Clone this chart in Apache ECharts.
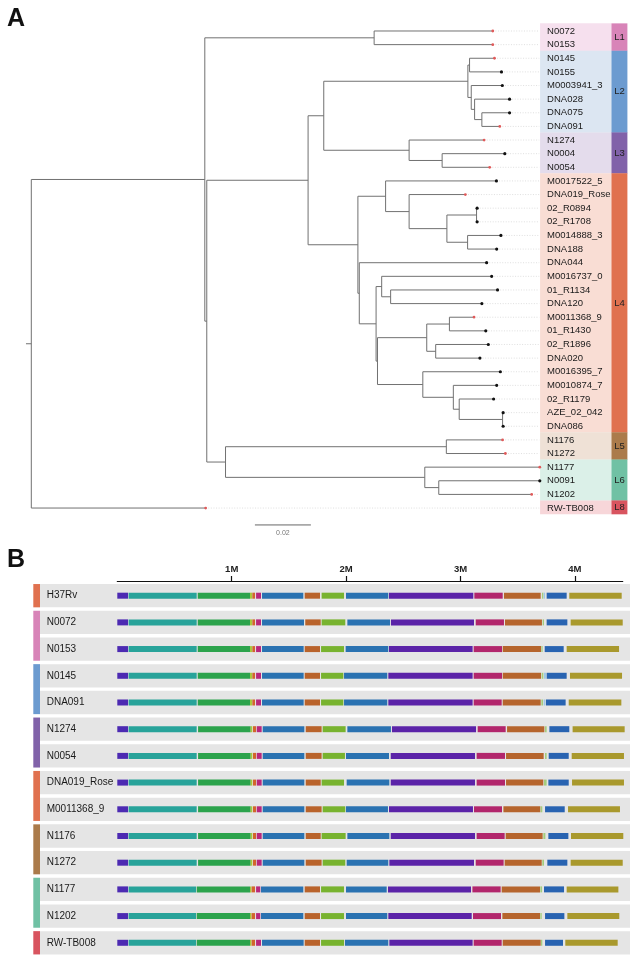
<!DOCTYPE html>
<html><head><meta charset="utf-8">
<script src="https://cdn.jsdelivr.net/npm/echarts@6/dist/echarts.min.js"></script>
<style>html,body{margin:0;padding:0;background:#fff}#c{width:633px;height:959px}</style>
</head><body><div id="c"></div>
<script>
// ---------------- DATA ----------------
// tree (Newick clades with branch lengths, substitutions/site)
const cladeL1 = "(N0072:0.0424,N0153:0.0424)";
const cladeL2 = "((N0145:0.0089,N0155:0.0114):0.0006,(M0003941_3:0.0111,(DNA028:0.0125,(DNA075:0.0099,DNA091:0.0064):0.0026):0.0012):0.0012)";
const cladeL3 = "(N1274:0.0268,(N0004:0.0224,N0054:0.0170):0.0118)";
const cladeL4a = "(M0017522_5:0.0396,(DNA019_Rose:0.0201,((02_R0894:0.0002,02_R1708:0.0002):0.0106,(M0014888_3:0.0119,DNA188:0.0104):0.0074):0.0135):0.0084)";
const cladeL4b = "(DNA044:0.0455,((M0016737_0:0.0393,(01_R1134:0.0382,DNA120:0.0326):0.0032):0.002,(((M0011368_9:0.0088,01_R1430:0.0130):0.0081,(02_R1896:0.0188,DNA020:0.0158):0.0032):0.0176,(M0016395_7:0.0277,(M0010874_7:0.0155,(02_R1179:0.0123,(AZE_02_042:0.0002,DNA086:0.0002):0.0155):0.0021):0.0109):0.0162):0.0005):0.006)";
const cladeL5 = "(N1176:0.0201,N1272:0.0211)";
const cladeL6 = "(N1177:0.0411,(N0091:0.0361,N1202:0.0332):0.005)";
const cladeL4 = "(" + cladeL4a + ":0.0099," + cladeL4b + ":0.0005)";
const cladeL23 = "(" + cladeL2 + ":0.0515," + cladeL3 + ":0.0305)";
const cladeL234 = "(" + cladeL23 + ":0.0056," + cladeL4 + ":0.0178)";
const cladeL56 = "(" + cladeL5 + ":0.0789," + cladeL6 + ":0.0712)";
const cladeRest = "(" + cladeL234 + ":0.0362," + cladeL56 + ":0.0067)";
const treeNewick = "((" + cladeL1 + ":0.0605," + cladeRest + ":0.0007):0.0620,RW-TB008:0.0623);";

const highlightedTips = ['N0072','N0153','N0145','DNA091','N1274','N0054','DNA019_Rose','M0011368_9','N1176','N1272','N1177','N1202','RW-TB008'];
const lineageNames = ['L1','L2','L3','L4','L5','L6','L8'];
const lineageFirstLeaf = [0,2,8,11,30,32,35];
const lineageLastLeaf  = [1,7,10,29,31,34,35];
const lineageBarColors = ['#d884b8','#6c9bd0','#8162a9','#e0714f','#ab7b4b','#70c1a4','#d8545f'];
const lineageBgColors  = ['#f6e0ee','#dce6f2','#e4dcec','#f9ddd4','#efe1d6','#dbf0e8','#f7d6d9'];
const scaleBarLength = 0.02;
const scaleBarLabel = '0.02';

const genomes = ['H37Rv','N0072','N0153','N0145','DNA091','N1274','N0054','DNA019_Rose','M0011368_9','N1176','N1272','N1177','N1202','RW-TB008'];
const genomeLineage = ['L4','L1','L1','L2','L2','L3','L3','L4','L4','L5','L5','L6','L6','L8'];
const blockColors = ['#4c2ab2','#28a39a','#2ca34c','#a9c63c','#d2652c','#b8287c','#2a72b1','#b9632b','#78b32f','#2a72b1','#5b23a8','#b2266c','#b6652d','#a4cd7c','#9ec9e6','#2863b1','#a9992d'];
const axisTickValuesMb = [1,2,3,4];
const axisMaxMb = 4.418;

// [block, start Mb, end Mb]
const blocksH37Rv = [[0,0,0.094],[1,0.099,0.694],[2,0.703,1.160],[3,1.160,1.178],[4,1.180,1.204],[5,1.213,1.256],[6,1.265,1.626],[7,1.638,1.772],[8,1.786,1.982],[9,1.999,2.369],[10,2.375,3.112],[11,3.121,3.369],[12,3.380,3.701],[13,3.712,3.724],[14,3.727,3.739],[15,3.753,3.928],[16,3.951,4.409]];
const blocksN0072 = [[0,0,0.094],[1,0.099,0.694],[2,0.703,1.160],[3,1.160,1.178],[4,1.180,1.204],[5,1.213,1.256],[6,1.265,1.632],[7,1.643,1.778],[8,1.786,1.993],[9,2.011,2.384],[10,2.392,3.118],[11,3.133,3.380],[12,3.389,3.712],[13,3.718,3.730],[15,3.753,3.934],[16,3.963,4.418]];
const blocksN0153 = [[0,0,0.094],[1,0.099,0.694],[2,0.703,1.160],[3,1.160,1.178],[4,1.180,1.204],[5,1.213,1.256],[6,1.265,1.629],[7,1.638,1.772],[8,1.781,1.982],[9,1.996,2.369],[10,2.375,3.106],[11,3.115,3.363],[12,3.369,3.704],[13,3.707,3.718],[15,3.736,3.902],[16,3.928,4.386]];
const blocksN0145 = [[0,0,0.094],[1,0.099,0.694],[2,0.703,1.160],[3,1.160,1.178],[4,1.180,1.204],[5,1.213,1.256],[6,1.265,1.629],[7,1.638,1.772],[8,1.781,1.976],[9,1.982,2.360],[10,2.369,3.106],[11,3.115,3.363],[12,3.369,3.704],[13,3.710,3.724],[14,3.730,3.747],[15,3.753,3.928],[16,3.957,4.412]];
const blocksDNA091 = [[0,0,0.094],[1,0.099,0.694],[2,0.703,1.160],[3,1.160,1.178],[4,1.180,1.204],[5,1.213,1.256],[6,1.265,1.629],[7,1.638,1.772],[8,1.781,1.976],[9,1.982,2.360],[10,2.369,3.106],[11,3.115,3.360],[12,3.369,3.701],[13,3.707,3.721],[14,3.727,3.742],[15,3.747,3.919],[16,3.946,4.406]];
const blocksN1274 = [[0,0,0.094],[1,0.099,0.694],[2,0.706,1.166],[3,1.166,1.180],[4,1.186,1.213],[5,1.219,1.262],[6,1.271,1.635],[7,1.647,1.786],[8,1.795,1.996],[9,2.011,2.392],[10,2.401,3.136],[11,3.150,3.395],[12,3.407,3.733],[13,3.739,3.753],[15,3.777,3.951],[16,3.980,4.435]];
const blocksN0054 = [[0,0,0.094],[1,0.099,0.694],[2,0.706,1.166],[3,1.166,1.180],[4,1.186,1.213],[5,1.219,1.262],[6,1.271,1.635],[7,1.647,1.786],[8,1.795,1.990],[9,1.999,2.375],[10,2.390,3.127],[11,3.141,3.389],[12,3.398,3.727],[13,3.739,3.753],[15,3.771,3.946],[16,3.972,4.429]];
const blocksDNA019_Rose = [[0,0,0.094],[1,0.099,0.694],[2,0.706,1.166],[3,1.166,1.180],[4,1.186,1.213],[5,1.219,1.262],[6,1.271,1.635],[7,1.647,1.778],[8,1.786,1.982],[9,2.005,2.378],[10,2.390,3.127],[11,3.141,3.389],[12,3.398,3.724],[13,3.730,3.753],[15,3.768,3.946],[16,3.975,4.429]];
const blocksM0011368_9 = [[0,0,0.094],[1,0.099,0.694],[2,0.706,1.166],[3,1.166,1.180],[4,1.186,1.213],[5,1.219,1.262],[6,1.271,1.635],[7,1.647,1.786],[8,1.795,1.993],[9,1.999,2.366],[10,2.375,3.109],[11,3.118,3.363],[12,3.375,3.698],[13,3.701,3.715],[15,3.739,3.911],[16,3.940,4.394]];
const blocksN1176 = [[0,0,0.094],[1,0.099,0.694],[2,0.706,1.166],[3,1.166,1.180],[4,1.186,1.213],[5,1.219,1.262],[6,1.271,1.635],[7,1.647,1.778],[8,1.786,1.996],[9,2.011,2.378],[10,2.390,3.127],[11,3.141,3.386],[12,3.395,3.718],[13,3.724,3.742],[15,3.768,3.943],[16,3.966,4.423]];
const blocksN1272 = [[0,0,0.094],[1,0.099,0.694],[2,0.706,1.166],[3,1.166,1.180],[4,1.186,1.213],[5,1.219,1.262],[6,1.271,1.635],[7,1.647,1.786],[8,1.795,1.993],[9,2.005,2.369],[10,2.378,3.118],[11,3.133,3.377],[12,3.386,3.710],[13,3.715,3.730],[15,3.759,3.934],[16,3.963,4.418]];
const blocksN1177 = [[0,0,0.094],[1,0.099,0.688],[2,0.694,1.160],[3,1.160,1.172],[4,1.174,1.204],[5,1.213,1.250],[6,1.256,1.626],[7,1.638,1.772],[8,1.781,1.982],[9,1.999,2.355],[10,2.366,3.092],[11,3.104,3.351],[12,3.360,3.695],[13,3.698,3.713],[15,3.730,3.905],[16,3.928,4.380]];
const blocksN1202 = [[0,0,0.094],[1,0.099,0.688],[2,0.694,1.160],[3,1.160,1.172],[4,1.174,1.204],[5,1.213,1.250],[6,1.256,1.626],[7,1.638,1.772],[8,1.781,1.982],[9,1.999,2.360],[10,2.369,3.098],[11,3.109,3.354],[12,3.366,3.695],[13,3.698,3.710],[15,3.739,3.908],[16,3.934,4.388]];
const blocksRW_TB008 = [[0,0,0.094],[1,0.099,0.688],[2,0.694,1.160],[3,1.160,1.172],[4,1.174,1.204],[5,1.213,1.256],[6,1.265,1.629],[7,1.638,1.772],[8,1.781,1.982],[9,1.990,2.369],[10,2.378,3.106],[11,3.115,3.360],[12,3.369,3.701],[13,3.704,3.715],[15,3.739,3.896],[16,3.916,4.374]];
const genomeBlocks = [blocksH37Rv,blocksN0072,blocksN0153,blocksN0145,blocksDNA091,blocksN1274,blocksN0054,blocksDNA019_Rose,blocksM0011368_9,blocksN1176,blocksN1272,blocksN1177,blocksN1202,blocksRW_TB008];

// ---------------- TREE PARSE / LAYOUT ----------------
function parseNewick(s){
  let i=0;
  function node(){
    const n={children:[],name:'',len:0};
    if(s[i]==='('){
      i++; n.children.push(node());
      while(s[i]===','){i++; n.children.push(node());}
      i++;
    }
    let name='';
    while(i<s.length && !':,();'.includes(s[i])){name+=s[i];i++;}
    n.name=name;
    if(s[i]===':'){i++; let num=''; while(i<s.length && !',();'.includes(s[i])){num+=s[i];i++;} n.len=parseFloat(num);}
    return n;
  }
  return node();
}
const root = parseNewick(treeNewick);
const leaves=[];
function layout(n, x0){
  n.x = x0 + n.len;
  if(!n.children.length){ n.y = leaves.length; leaves.push(n); }
  else { n.children.forEach(c=>layout(c,n.x)); n.y=(n.children[0].y + n.children[n.children.length-1].y)/2; }
}
root.len=0; layout(root,0);
const edges=[];
(function walk(n){
  if(n.children.length){
    edges.push([n.x, n.children[0].y, n.x, n.children[n.children.length-1].y]);
    n.children.forEach(c=>{ edges.push([n.x, c.y, c.x, c.y]); walk(c); });
  }
})(root);
edges.push([-0.0019, root.y, 0, root.y]);
const alignX = 0.1815;
const tipData = leaves.map(l=>[l.x, l.y, highlightedTips.includes(l.name)?1:0, l.name]);

const FONT = '"Liberation Sans", Arial, Helvetica, sans-serif';
const chart = echarts.init(document.getElementById('c'), null, {renderer:'canvas'});

function lineItem(api, a, b, style){
  const p0=api.coord(a), p1=api.coord(b);
  return {type:'line', shape:{x1:p0[0],y1:p0[1],x2:p1[0],y2:p1[1]}, style};
}
const bandData = lineageNames.map((nm,k)=>[lineageFirstLeaf[k], lineageLastLeaf[k], k]);
const stripGroups=[];
genomeLineage.forEach((lg,i)=>{
  const last=stripGroups[stripGroups.length-1];
  if(last && last.lg===lg && last.end===i-1) last.end=i; else stripGroups.push({lg,start:i,end:i});
});
const segData=[];
genomeBlocks.forEach((bl,r)=>bl.forEach(b=>segData.push([b[1],b[2],r,b[0]])));

const option = {
  animation:false,
  backgroundColor:'#fff',
  grid:[
    {left:25.7, top:17.37, width:607.6, height:504.3},
    {left:117.3, top:581, width:axisMaxMb*114.4, height:14.1*26.7}
  ],
  xAxis:[
    {type:'value', gridIndex:0, min:-0.002, max:0.215, show:false},
    {type:'value', gridIndex:1, min:0, max:axisMaxMb, position:'top', interval:1,
     axisLine:{show:true, onZero:false, lineStyle:{color:'#111', width:1.2}},
     axisTick:{show:true, inside:false, length:5, lineStyle:{color:'#111',width:1.2}, customValues:axisTickValuesMb},
     axisLabel:{show:true, margin:7, color:'#222', fontSize:9.5, fontWeight:'bold', fontFamily:FONT, customValues:axisTickValuesMb, formatter:v=>v+'M'},
     splitLine:{show:false}}
  ],
  yAxis:[
    {type:'value', gridIndex:0, min:-1, max:36, inverse:true, show:false},
    {type:'value', gridIndex:1, min:-0.55, max:13.55, inverse:true, show:false}
  ],
  graphic:[
    {type:'text', left:7, top:7, z:100, style:{text:'A', font:'bold 25px '+FONT, fill:'#111'}},
    {type:'text', left:7, top:548, z:100, style:{text:'B', font:'bold 25px '+FONT, fill:'#111'}}
  ],
  series:[
    {type:'custom', xAxisIndex:0, yAxisIndex:0, clip:false, data:bandData,
     renderItem:(p,api)=>{
       const k=api.value(2);
       const tl=api.coord([0.1818, api.value(0)-0.56]);
       const br=api.coord([0.2073, api.value(1)+0.46]);
       const br2=api.coord([0.2130, api.value(1)+0.46]);
       const mid=api.coord([0.2102,(api.value(0)+api.value(1))/2-0.05]);
       return {type:'group', children:[
         {type:'rect', shape:{x:tl[0],y:tl[1],width:br[0]-tl[0],height:br[1]-tl[1]}, style:{fill:lineageBgColors[k]}},
         {type:'rect', shape:{x:br[0],y:tl[1],width:br2[0]-br[0],height:br[1]-tl[1]}, style:{fill:lineageBarColors[k]}},
         {type:'text', x:mid[0], y:mid[1], style:{text:lineageNames[k], fill:'#222', font:'9.5px '+FONT, align:'center', verticalAlign:'middle'}}
       ]};
     }},
    {type:'custom', xAxisIndex:0, yAxisIndex:0, clip:false, data:tipData,
     renderItem:(p,api)=>lineItem(api,[api.value(0),api.value(1)],[alignX,api.value(1)],{stroke:'#cacaca',lineWidth:0.6,lineDash:[1,1.6]})},
    {type:'custom', xAxisIndex:0, yAxisIndex:0, clip:false, data:edges,
     renderItem:(p,api)=>lineItem(api,[api.value(0),api.value(1)],[api.value(2),api.value(3)],{stroke:'#717171',lineWidth:1})},
    {type:'custom', xAxisIndex:0, yAxisIndex:0, clip:false, data:tipData,
     renderItem:(p,api)=>{const c=api.coord([api.value(0),api.value(1)]); const red=api.value(2)===1;
       return {type:'circle', shape:{cx:c[0],cy:c[1],r:red?1.4:1.6}, style:{fill:red?'#e05a5a':'#111'}};}},
    {type:'custom', xAxisIndex:0, yAxisIndex:0, clip:false, data:tipData,
     renderItem:(p,api)=>{const c=api.coord([0.1843,api.value(1)]);
       return {type:'text', x:c[0], y:c[1], style:{text:tipData[p.dataIndex][3], fill:'#1a1a1a', font:'9.5px '+FONT, verticalAlign:'middle'}};}},
    {type:'custom', xAxisIndex:0, yAxisIndex:0, clip:false, data:[[0.0799, 36.24]],
     renderItem:(p,api)=>{const a=api.coord([api.value(0),api.value(1)]); const b=api.coord([api.value(0)+scaleBarLength,api.value(1)]);
       return {type:'group',children:[
         {type:'line', shape:{x1:a[0],y1:a[1],x2:b[0],y2:b[1]}, style:{stroke:'#666',lineWidth:1}},
         {type:'text', x:(a[0]+b[0])/2, y:a[1]+8, style:{text:scaleBarLabel, fill:'#777', font:'7px '+FONT, align:'center', verticalAlign:'middle'}}
       ]};}},
    {type:'custom', xAxisIndex:1, yAxisIndex:1, clip:false, z:1, data:genomes.map((g,i)=>[0,i]),
     renderItem:(p,api)=>{const cs=p.coordSys; const c=api.coord([0,api.value(1)]);
       return {type:'group',children:[
         {type:'rect', shape:{x:cs.x-77.3, y:c[1]-11.65, width:cs.width+84.6, height:23.3}, style:{fill:'#e5e5e5'}},
         {type:'text', x:cs.x-70.6, y:c[1], style:{text:genomes[p.dataIndex], fill:'#1a1a1a', font:'10px '+FONT, verticalAlign:'middle'}}
       ]};}},
    {type:'custom', xAxisIndex:1, yAxisIndex:1, clip:false, data:stripGroups.map(g=>[0,g.start,g.end,lineageNames.indexOf(g.lg)]),
     renderItem:(p,api)=>{const cs=p.coordSys; const a=api.coord([0,api.value(1)]); const b=api.coord([0,api.value(2)]);
       return {type:'rect', shape:{x:cs.x-84, y:a[1]-11.65, width:6.7, height:b[1]-a[1]+23.3}, style:{fill:lineageBarColors[api.value(3)]}};}},
    {type:'custom', xAxisIndex:1, yAxisIndex:1, clip:false, data:segData,
     renderItem:(p,api)=>{const a=api.coord([api.value(0),api.value(2)]); const b=api.coord([api.value(1),api.value(2)]);
       return {type:'rect', shape:{x:a[0], y:a[1]-3, width:Math.max(0.8,b[0]-a[0]), height:6}, style:{fill:blockColors[api.value(3)]}};}}
  ]
};
chart.setOption(option);
</script></body></html>
